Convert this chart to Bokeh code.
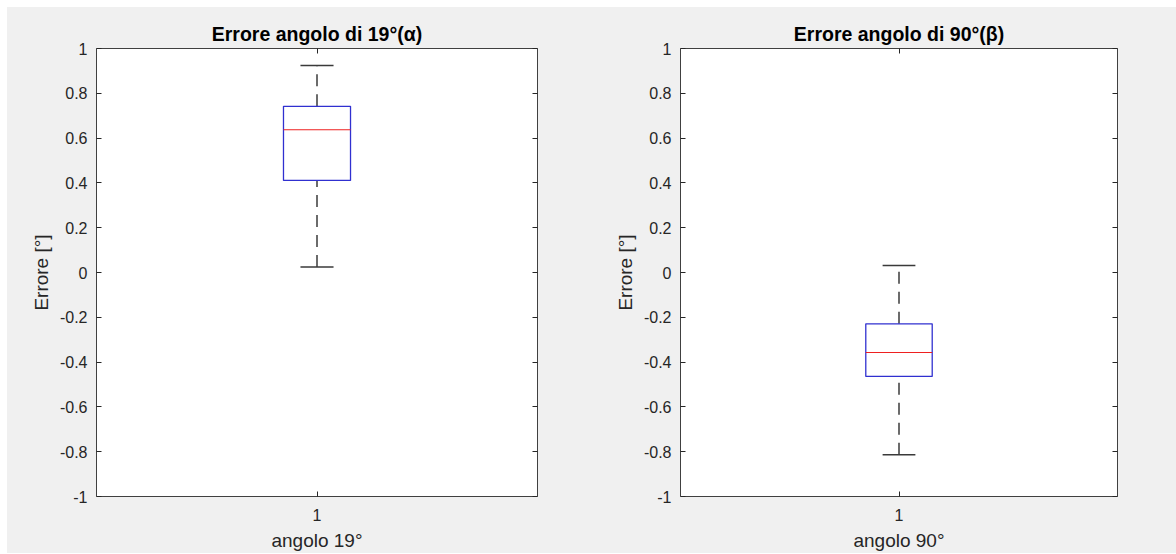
from bokeh.plotting import figure
from bokeh.models import LinearAxis, FixedTicker, Range1d, Spacer
from bokeh.layouts import row, column
from bokeh.embed import file_html
from bokeh.resources import INLINE

# Box statistics
titles = ["Errore angolo di 19°(α)", "Errore angolo di 90°(β)"]
xlabels = ["angolo 19°", "angolo 90°"]
ylabel = "Errore [°]"
lower_whisker = [0.024, -0.814]
q1 = [0.411, -0.464]
median = [0.637, -0.357]
q3 = [0.742, -0.229]
upper_whisker = [0.924, 0.031]
y_ticks = [-1, -0.8, -0.6, -0.4, -0.2, 0, 0.2, 0.4, 0.6, 0.8, 1]
y_tick_labels = ["-1", "-0.8", "-0.6", "-0.4", "-0.2", "0", "0.2", "0.4", "0.6", "0.8", "1"]
x_ticks = [1]

BG = "#f0f0f0"
AX = "#262626"
FONT = "Liberation Sans"

def style_axis(ax, show_labels=True):
    ax.major_tick_in = 5
    ax.major_tick_out = 0
    ax.minor_tick_in = 0
    ax.minor_tick_out = 0
    ax.axis_line_color = None
    ax.major_tick_line_color = AX
    ax.major_label_text_font = FONT
    ax.major_label_text_font_size = "16px" if show_labels else "0px"
    ax.major_label_text_color = AX if show_labels else None
    if not show_labels:
        ax.major_label_standoff = 0
    ax.axis_label_text_font = FONT
    ax.axis_label_text_font_size = "19px"
    ax.axis_label_text_font_style = "normal"
    ax.axis_label_text_color = AX

def make(i, width, left, right, fw):
    p = figure(width=width, height=547, output_backend="svg", toolbar_location=None,
               x_range=Range1d(0.5, 1.5), y_range=Range1d(-1, 1),
               frame_width=fw, frame_height=448,
               min_border_left=left, min_border_right=right,
               min_border_top=41, min_border_bottom=51,
               background_fill_color="white", border_fill_color=BG)
    p.outline_line_color = "#404040"
    p.outline_line_width = 1
    p.grid.visible = False
    p.title.text = titles[i]
    p.title.align = "center"
    p.title.text_font = FONT
    p.title.text_font_size = "19.5px"
    p.title.text_font_style = "bold"
    p.title.text_color = "#000000"
    p.title.standoff = 7

    x = [1]
    wc = "#3a3a3a"
    # whiskers
    p.segment(x0=x, y0=[q3[i]], x1=x, y1=[upper_whisker[i]], line_color=wc,
              line_dash="12 8", line_width=1.5)
    p.segment(x0=x, y0=[lower_whisker[i]], x1=x, y1=[q1[i]], line_color=wc,
              line_dash="12 8", line_width=1.5)
    # caps
    for w in (upper_whisker[i], lower_whisker[i]):
        p.segment(x0=[1 - 0.0375], y0=[w], x1=[1 + 0.0375], y1=[w], line_color=wc,
                  line_width=1.5)
    # box
    p.vbar(x=x, width=0.152, bottom=[q1[i]], top=[q3[i]], fill_color=None,
           line_color="#3030d0", line_width=1.3)
    # median
    p.segment(x0=[1 - 0.076], y0=[median[i]], x1=[1 + 0.076], y1=[median[i]],
              line_color="#ee2020", line_width=1.1)

    p.yaxis.ticker = FixedTicker(ticks=y_ticks)
    p.yaxis.major_label_overrides = {t: l for t, l in zip(y_ticks, y_tick_labels)}
    p.yaxis.axis_label = ylabel
    p.xaxis.ticker = FixedTicker(ticks=x_ticks)
    p.xaxis.axis_label = xlabels[i]
    style_axis(p.yaxis[0])
    style_axis(p.xaxis[0])
    p.yaxis.major_label_standoff = 9
    p.yaxis.axis_label_standoff = 5
    p.xaxis.major_label_standoff = 12
    p.xaxis.axis_label_standoff = 6

    ra = LinearAxis(ticker=FixedTicker(ticks=y_ticks))
    style_axis(ra, False)
    p.add_layout(ra, "right")
    ta = LinearAxis(ticker=FixedTicker(ticks=x_ticks))
    style_axis(ta, False)
    p.add_layout(ta, "above")
    return p

p1 = make(0, 601, 89, 71, 441)
p2 = make(1, 568, 72, 59, 437)
figs = row(p1, p2, styles={"background-color": BG}, spacing=0)
layout = column(Spacer(height=7), row(Spacer(width=7), figs, spacing=0), spacing=0)

open("out.html", "w").write(file_html(layout, INLINE))
